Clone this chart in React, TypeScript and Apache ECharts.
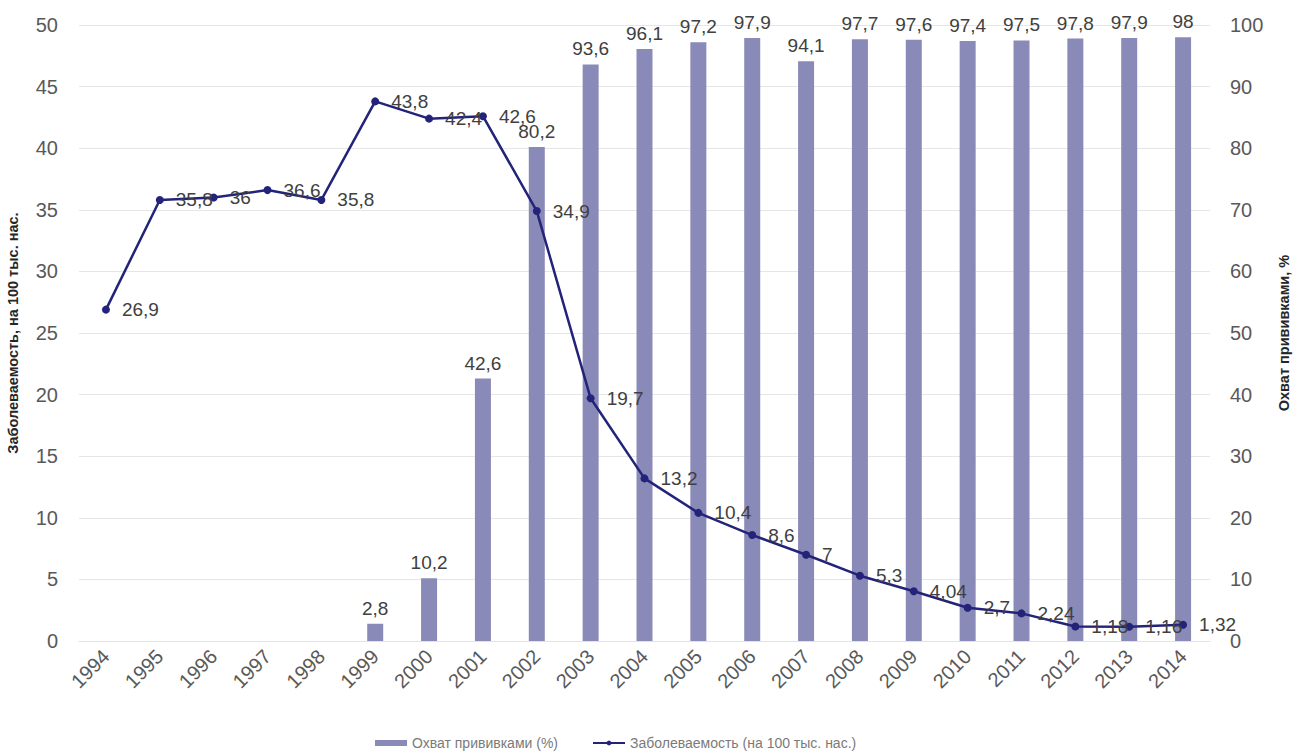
import React, { useEffect, useRef } from "react";
import * as echarts from "echarts";

const years = ["1994","1995","1996","1997","1998","1999","2000","2001","2002","2003","2004","2005","2006","2007","2008","2009","2010","2011","2012","2013","2014"];
const coverage: (number | null)[] = [null,null,null,null,null,2.8,10.2,42.6,80.2,93.6,96.1,97.2,97.9,94.1,97.7,97.6,97.4,97.5,97.8,97.9,98];
const incidence = [26.9,35.8,36,36.6,35.8,43.8,42.4,42.6,34.9,19.7,13.2,10.4,8.6,7,5.3,4.04,2.7,2.24,1.18,1.16,1.32];
const leftTicks = { min: 0, max: 50, interval: 5 };
const rightTicks = { min: 0, max: 100, interval: 10 };

const fmt = (v: any) => String(v).replace(".", ",");
const FONT = "'Liberation Sans', Arial, sans-serif";

export default function App() {
  const ref = useRef<HTMLDivElement>(null);
  useEffect(() => {
    const chart = echarts.init(ref.current!, null, { renderer: "svg" });
    chart.setOption({
      animation: false,
      textStyle: { fontFamily: FONT },
      grid: { left: 79, right: 83, top: 25, bottom: 112, containLabel: false, outerBoundsMode: "none" },
      legend: {
        top: 731,
        left: 370,
        itemGap: 34,
        itemWidth: 32,
        itemHeight: 6,
        textStyle: { color: "#7a7a7a", fontSize: 14, fontFamily: FONT },
        data: [
          { name: "Охват прививками (%)", icon: "rect" },
          { name: "Заболеваемость (на 100 тыс. нас.)" },
        ],
      },
      xAxis: {
        type: "category",
        data: years,
        axisLine: { show: true, lineStyle: { color: "#e3e3e3" } },
        axisTick: { show: false },
        axisLabel: { rotate: 45, color: "#595959", fontSize: 20, margin: 12, fontFamily: FONT, interval: 0 },
      },
      yAxis: [
        {
          type: "value",
          ...leftTicks,
          name: "Заболеваемость, на 100 тыс. нас.",
          nameLocation: "middle",
          nameRotate: 90,
          nameGap: 59,
          nameTextStyle: { color: "#262626", fontSize: 14.5, fontWeight: "bold", fontFamily: FONT },
          axisLine: { show: false },
          axisTick: { show: false },
          axisLabel: { color: "#595959", fontSize: 20, margin: 21, fontFamily: FONT },
          splitLine: { lineStyle: { color: "#e6e6e6" } },
        },
        {
          type: "value",
          ...rightTicks,
          name: "Охват прививками, %",
          nameLocation: "middle",
          nameRotate: 90,
          nameGap: 66,
          nameTextStyle: { color: "#262626", fontSize: 14.5, fontWeight: "bold", fontFamily: FONT },
          axisLine: { show: false },
          axisTick: { show: false },
          axisLabel: { color: "#595959", fontSize: 20, margin: 20, fontFamily: FONT },
          splitLine: { show: false },
        },
      ],
      series: [
        {
          name: "Охват прививками (%)",
          type: "bar",
          yAxisIndex: 1,
          data: coverage,
          barWidth: 16,
          itemStyle: { color: "#8a8ab8" },
          label: {
            show: true,
            position: "top",
            distance: 6,
            color: "#404040",
            fontSize: 19,
            fontFamily: FONT,
            formatter: (p: any) => fmt(p.value),
          },
          z: 1,
        },
        {
          name: "Заболеваемость (на 100 тыс. нас.)",
          type: "line",
          yAxisIndex: 0,
          data: incidence,
          symbol: "circle",
          symbolSize: 8,
          lineStyle: { color: "#23237a", width: 2.5 },
          itemStyle: { color: "#23237a" },
          label: {
            show: true,
            position: "right",
            distance: 12,
            color: "#404040",
            fontSize: 19,
            fontFamily: FONT,
            formatter: (p: any) => fmt(p.value),
          },
          z: 3,
        },
      ],
    });
    return () => chart.dispose();
  }, []);
  return <div ref={ref} style={{ position: "absolute", left: 0, top: 0, width: 1293, height: 753 }} />;
}
